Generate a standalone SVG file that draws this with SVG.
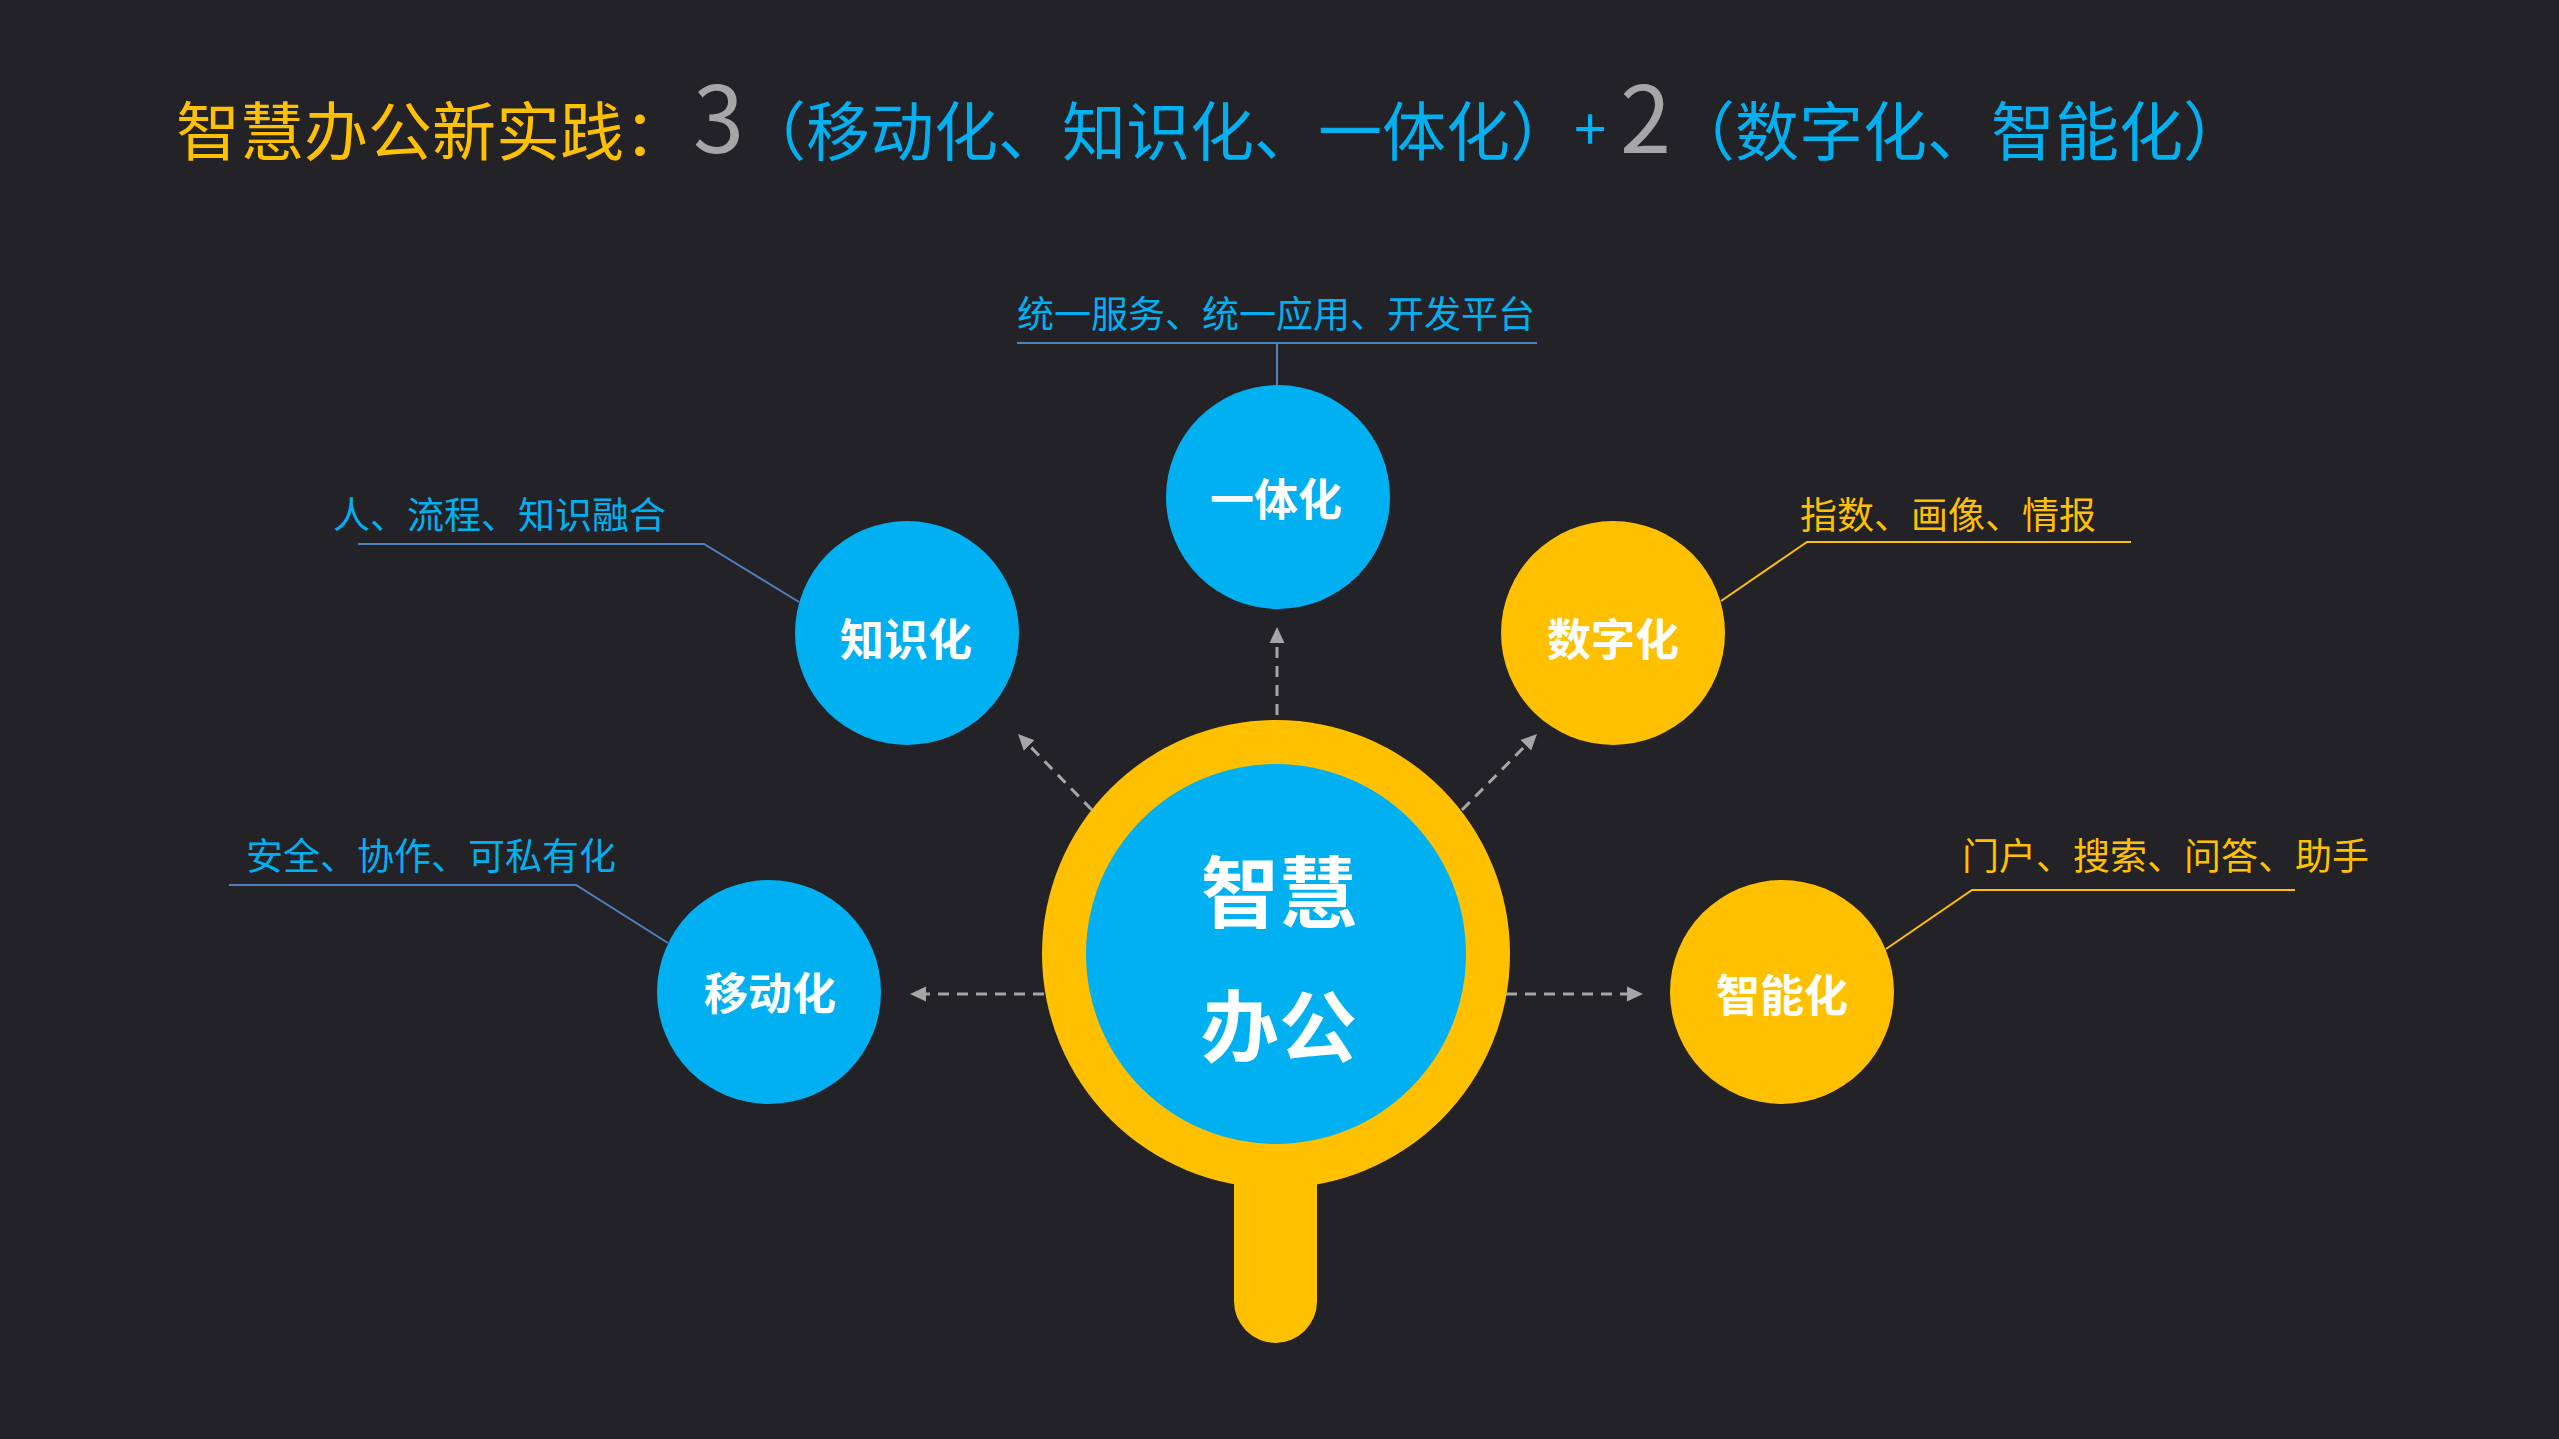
<svg xmlns="http://www.w3.org/2000/svg" width="2559" height="1439" viewBox="0 0 2559 1439">
<style>
  .cjk { font-family: "Noto Sans CJK SC", "Noto Sans", sans-serif; }
  .title { font-size: 64px; font-weight: 400; }
  .num { font-size: 92px; font-weight: 400; fill: #A6A6A6; }
  .yel { fill: #FFC000; }
  .blu { fill: #00B0F0; }
  .note { font-size: 37px; font-weight: 400; }
  .lbl { font-size: 44px; font-weight: 700; fill: #FFFFFF; text-anchor: middle; }
  .core { font-size: 78px; font-weight: 700; fill: #FFFFFF; text-anchor: middle; }
  .lead-b { fill: none; stroke: #4F81BD; stroke-width: 2; }
  .lead-y { fill: none; stroke: #FFC000; stroke-width: 2; }
  .dash { fill: none; stroke: #A6A6A6; stroke-width: 3; stroke-dasharray: 11 8; marker-end: url(#arr); }
</style>
<defs>
  <marker id="arr" markerUnits="userSpaceOnUse" markerWidth="16" markerHeight="16" refX="4" refY="7.5" orient="auto" viewBox="0 0 16 15">
    <path d="M0,0 L16,7.5 L0,15 Z" fill="#A6A6A6"/>
  </marker>
</defs>
<rect x="0" y="0" width="2559" height="1439" fill="#222227"/>

<g id="title" class="cjk">
  <text y="155" class="title"><tspan class="yel" x="176">智慧办公新实践：</tspan><tspan class="num" x="693" y="153">3</tspan><tspan class="blu" x="742" y="155">（移动化、知识化、一体化）</tspan><tspan class="blu" x="1574" y="150" style="font-size:58px">+</tspan><tspan class="num" x="1620" y="153">2</tspan><tspan class="blu" x="1671" y="155">（数字化、智能化）</tspan></text>
</g>

<g id="connectors">
  <path class="dash" d="M1277,715 L1277,639"/>
  <path class="dash" d="M1092,810 L1026.4,742.6"/>
  <path class="dash" d="M1462,810 L1528.6,742.5"/>
  <path class="dash" d="M1044,994 L922,994"/>
  <path class="dash" d="M1506,994 L1631,994"/>
  <path class="lead-b" d="M1017,343 H1537 M1277,343 V386"/>
  <path class="lead-b" d="M358,544 H704 L799,602"/>
  <path class="lead-y" d="M2131,542 H1807 L1721,601"/>
  <path class="lead-b" d="M229,885 H576 L668,943"/>
  <path class="lead-y" d="M2295,890 H1972 L1886,949"/>
</g>

<g id="core" class="cjk">
  <path d="M1234,1100 V1301.5 A41.5,41.5 0 0 0 1317,1301.5 V1100 Z" fill="#FFC000"/>
  <circle cx="1276" cy="954" r="234" fill="#FFC000"/>
  <circle cx="1276" cy="954" r="190" fill="#00B0F0"/>
  <text x="1279" y="922" class="core">智慧</text>
  <text x="1279" y="1056" class="core">办公</text>
</g>

<g id="node-yitihua" class="cjk">
  <circle cx="1278" cy="497" r="112" fill="#00B0F0"/>
  <text x="1276" y="516" class="lbl">一体化</text>
  <text x="1017" y="328" class="note blu">统一服务、统一应用、开发平台</text>
</g>

<g id="node-zhishihua" class="cjk">
  <circle cx="907" cy="633" r="112" fill="#00B0F0"/>
  <text x="906" y="656" class="lbl">知识化</text>
  <text x="333" y="529" class="note blu">人、流程、知识融合</text>
</g>

<g id="node-shuzihua" class="cjk">
  <circle cx="1613" cy="633" r="112" fill="#FFC000"/>
  <text x="1613" y="656" class="lbl">数字化</text>
  <text x="1800" y="529" class="note yel">指数、画像、情报</text>
</g>

<g id="node-yidonghua" class="cjk">
  <circle cx="769" cy="992" r="112" fill="#00B0F0"/>
  <text x="770" y="1010" class="lbl">移动化</text>
  <text x="246" y="870" class="note blu">安全、协作、可私有化</text>
</g>

<g id="node-zhinenghua" class="cjk">
  <circle cx="1782" cy="992" r="112" fill="#FFC000"/>
  <text x="1782" y="1012" class="lbl">智能化</text>
  <text x="1962" y="870" class="note yel">门户、搜索、问答、助手</text>
</g>
</svg>
